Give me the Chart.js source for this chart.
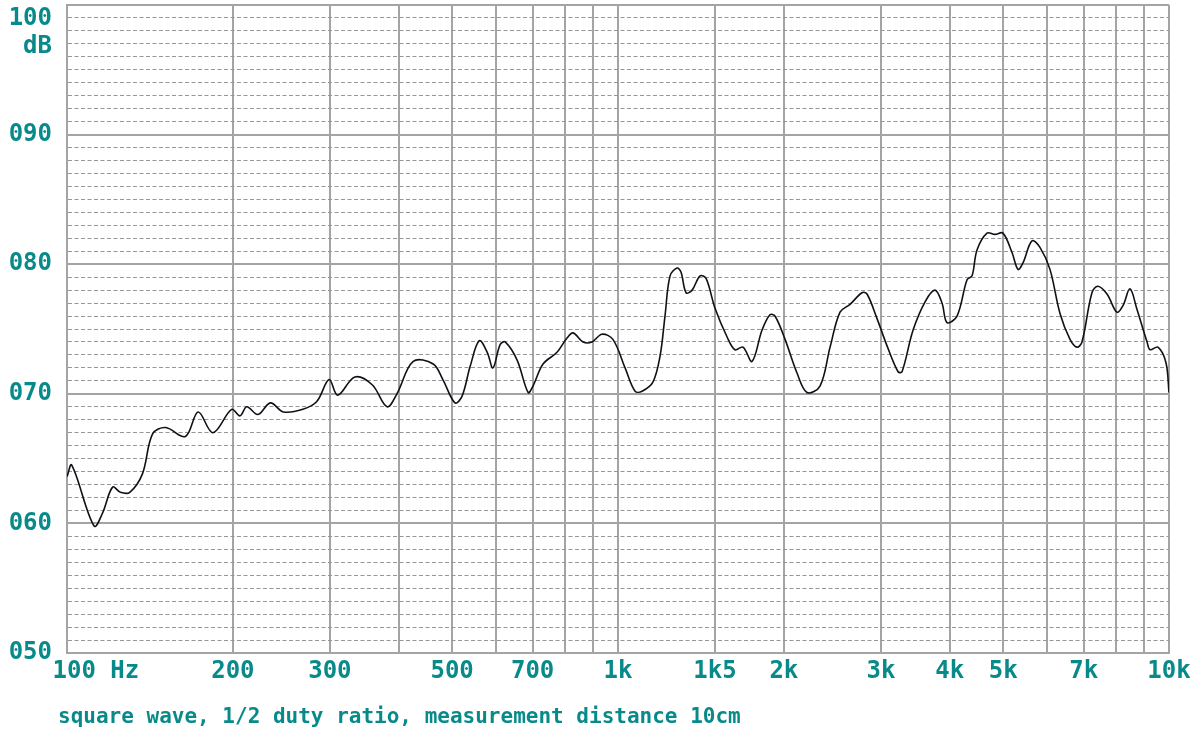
<!DOCTYPE html>
<html>
<head>
<meta charset="utf-8">
<script src="https://cdn.jsdelivr.net/npm/chart.js@4/dist/chart.umd.min.js"></script>
<style>
  body { margin: 0; background: #fff; }
  #wrap { position: relative; width: 1200px; height: 733px; }
  #footer {
    position: absolute; left: 58px; top: 704px;
    font: bold 21px "DejaVu Sans Mono", monospace; color: #088a8a;
    white-space: pre;
  }
</style>
</head>
<body>
<div id="wrap">
  <canvas id="myResponseChart" width="1200" height="733"></canvas>
  <div id="footer">square wave, 1/2 duty ratio, measurement distance 10cm</div>
</div>
<script>
// frequency response (Hz / dB)
const freqs = [100, 102, 112, 116, 121, 125, 130, 137, 143, 151, 164, 173, 184, 199, 206, 212, 222, 234, 247, 268, 284, 299, 310,
  333, 358, 381, 397, 425, 462, 481, 506, 521, 539, 560, 579, 593, 611, 624, 656, 687, 701, 731, 775, 808, 829, 864, 897, 935, 979,
  1030, 1074, 1106, 1157, 1192, 1217, 1243, 1280, 1301, 1329, 1363, 1409, 1445, 1500, 1577, 1630, 1686, 1751, 1825, 1887, 1927,
  2010, 2113, 2203, 2326, 2426, 2529, 2637, 2772, 2831, 2952, 3078, 3223, 3277, 3431, 3608, 3761, 3873, 3955, 4124, 4300, 4391,
  4483, 4674, 4833, 4996, 5189, 5321, 5432, 5641, 5832, 6081, 6341, 6613, 6807, 6951, 7247, 7431, 7717, 8044, 8249, 8495, 8749,
  9124, 9237, 9550, 9874, 10000];
const spl = [63.6, 64.5, 59.8, 60.8, 62.8, 62.4, 62.4, 63.8, 66.9, 67.4, 66.7, 68.6, 67.0, 68.8, 68.3, 69.0, 68.4, 69.3, 68.6, 68.8, 69.4, 71.1, 69.9,
  71.3, 70.7, 69.0, 70.0, 72.5, 72.3, 71.1, 69.3, 69.8, 72.1, 74.1, 73.2, 72.0, 73.8, 74.0, 72.6, 70.1, 70.6, 72.3, 73.2, 74.3, 74.7, 74.0, 74.0, 74.6, 74.2,
  72.0, 70.2, 70.2, 70.9, 72.9, 76.0, 79.1, 79.7, 79.4, 77.8, 78.0, 79.1, 78.9, 76.6, 74.4, 73.4, 73.6, 72.5, 74.9, 76.1, 76.0,
  74.2, 71.6, 70.1, 70.6, 73.6, 76.3, 76.9, 77.8, 77.7, 75.8, 73.7, 71.7, 71.7, 74.9, 77.1, 78.0, 77.0, 75.5, 76.0, 78.8, 79.1,
  81.1, 82.4, 82.3, 82.4, 80.9, 79.6, 80.1, 81.8, 81.3, 79.6, 76.2, 74.2, 73.6, 74.0, 77.8, 78.3, 77.7, 76.3, 76.8, 78.1, 76.5,
  74.0, 73.4, 73.6, 72.4, 70.1];

// axis ticks
const xTicks = [100, 200, 300, 400, 500, 600, 700, 800, 900, 1000, 1500, 2000, 3000, 4000, 5000, 6000, 7000, 8000, 9000, 10000];
const xLabels = ['    100 Hz', '200', '300', '', '500', '', '700', '', '', '1k', '1k5', '2k', '3k', '4k', '5k', '', '7k', '', '', '10k'];
const yMajor = [50, 60, 70, 80, 90, 100];
const yLabels = ['050', '060', '070', '080', '090', ['', '', '100', 'dB']];

const teal = '#088a8a';
const gridGray = '#a4a4a4';

const config = {
    type: 'line',
    data: {
        datasets: [{
            data: freqs.map((f, i) => ({ x: f, y: spl[i] })),
            borderColor: '#101018',
            borderWidth: 1.6,
            pointRadius: 0,
            tension: 0.35,
            fill: false
        }]
    },
    options: {
        responsive: false,
        animation: false,
        layout: { padding: { top: 5, right: 31, left: 0, bottom: 0 } },
        plugins: { legend: { display: false }, tooltip: { enabled: false } },
        scales: {
            x: {
                type: 'logarithmic',
                min: 100,
                max: 10000,
                afterBuildTicks: axis => { axis.ticks = xTicks.map(v => ({ value: v })); },
                afterFit: axis => { axis.height = 80; axis.paddingLeft = 0; axis.paddingRight = 0; },
                ticks: {
                    autoSkip: false,
                    maxRotation: 0,
                    padding: 4,
                    color: teal,
                    font: { family: 'DejaVu Sans Mono', size: 24, weight: 'bold' },
                    callback: (v, i) => xLabels[i]
                },
                grid: { color: gridGray, lineWidth: 2, drawTicks: false },
                border: { color: gridGray, width: 2 }
            },
            y: {
                min: 50,
                max: 100,
                afterFit: axis => { axis.width = 67; axis.paddingTop = 0; axis.paddingBottom = 0; },
                ticks: {
                    stepSize: 1,
                    autoSkip: false,
                    padding: 15,
                    color: teal,
                    font: { family: 'DejaVu Sans Mono', size: 24, weight: 'bold', lineHeight: 1.15 },
                    callback: v => {
                        const k = yMajor.indexOf(v);
                        return k >= 0 ? yLabels[k] : '';
                    }
                },
                grid: {
                    drawTicks: false,
                    color: ctx => ctx.tick && ctx.tick.value % 10 === 0 ? gridGray : '#969696',
                    lineWidth: ctx => ctx.tick && ctx.tick.value % 10 === 0 ? 2 : 1
                },
                border: {
                    color: gridGray,
                    width: 2,
                    dash: ctx => ctx.tick && ctx.tick.value % 10 !== 0 ? [4, 2.5] : []
                }
            }
        }
    }
};

const responseChart = new Chart(document.getElementById('myResponseChart'), config);
</script>
</body>
</html>
